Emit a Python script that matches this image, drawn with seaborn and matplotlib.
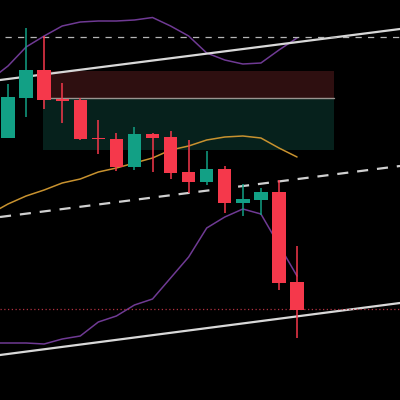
#!/usr/bin/env python3
import matplotlib
matplotlib.use("Agg")
import matplotlib.pyplot as plt
import numpy as np
import seaborn as sns

# candles, one entry per bar
opens = [262, 302, 330, 301, 300, 262, 261, 233, 266, 263, 228, 218, 231, 197, 200, 208, 118]
closes = [303, 330, 300, 299, 261, 261, 233, 266, 262, 227, 218, 231, 197, 201, 208, 117, 90]
highs = [316, 372, 364, 317, 302, 280, 267, 273, 267, 269, 260, 249, 234, 216, 212, 220, 154]
lows = [262, 283, 291, 277, 260, 246, 229, 230, 228, 221, 207, 215, 187, 184, 185, 110, 62]

# bollinger bands and moving average
bar_idx = [-1, 0, 1, 2, 3, 4, 5, 6, 7, 8, 9, 10, 11, 12, 13, 14, 15, 16]
upper_band = [80, 334, 353, 364, 374, 378, 379, 379, 380, 382.5, 374, 364, 347, 340, 336, 337, 350, 362]
upper_band[0] = 320
lower_band = [57, 57, 57, 56, 61, 64, 78, 84, 95, 101, 122, 143, 172, 183, 191, 186, 155, 124]
ma_line = [186, 196, 204, 210, 217, 221, 228, 232, 237, 242, 250, 254, 260, 263, 264, 262, 252, 243]

# trend lines, left and right end
edge_idx = [-0.443, 21.7]
top_trend = [320, 371]
mid_trend = [183, 234]
low_trend = [45, 97]
resist_level = [363.5, 363.5]
close_level = [91, 91]

# zones: price bottom/top
zone_idx = [1.94, 18.05]
red_zone = [302.5, 329.5]
green_zone = [250.5, 302.5]

UP = "#12a085"
DOWN = "#f5384b"

sns.set_theme(style="dark")
fig, ax = plt.subplots(figsize=(4, 4), dpi=100)
fig.patch.set_facecolor("black")
ax.set_facecolor("black")
ax.set_position([0, 0, 1, 1])

ax.fill_between(zone_idx, red_zone[0], red_zone[1], color="#2e0f10", lw=0, zorder=1)
ax.fill_between(zone_idx, green_zone[0], green_zone[1], color="#06211c", lw=0, zorder=1)
ax.plot(zone_idx, [red_zone[0], red_zone[0]], color="#9a9490", lw=1, zorder=1.5)

sns.lineplot(x=bar_idx, y=upper_band, color="#6f3a94", lw=1.1, ax=ax, zorder=2)
sns.lineplot(x=bar_idx, y=lower_band, color="#6f3a94", lw=1.1, ax=ax, zorder=2)
sns.lineplot(x=bar_idx, y=ma_line, color="#c8922f", lw=1.1, ax=ax, zorder=2)

sns.lineplot(x=edge_idx, y=top_trend, color="#d8d8d8", lw=1.6, ax=ax, zorder=3)
sns.lineplot(x=edge_idx, y=low_trend, color="#d8d8d8", lw=1.6, ax=ax, zorder=3)
sns.lineplot(x=edge_idx, y=mid_trend, color="#d0d0d0", lw=1.6, ax=ax, zorder=3,
             linestyle=(0, (5, 4)))
sns.lineplot(x=[0 - 0.16, 21.7], y=resist_level, color="#b5b5b5", lw=0.9, ax=ax, zorder=3,
             linestyle=(0, (5, 5)))
sns.lineplot(x=edge_idx, y=close_level, color="#b03040", lw=0.9, ax=ax, zorder=3,
             linestyle=(0, (1, 2)))

x = np.arange(len(opens))
colors = [UP if c > o else DOWN for o, c in zip(opens, closes)]
ax.vlines(x, lows, highs, colors=colors, lw=1.1, zorder=4)
bottoms = np.minimum(opens, closes)
heights = np.abs(np.array(closes) - np.array(opens))
ax.bar(x, heights, bottom=bottoms, width=0.74, color=colors, lw=0, zorder=5)

ax.set_xlim(-0.443, 21.7)
ax.set_ylim(0, 400)
ax.set_xticks([])
ax.set_yticks([])
ax.set_xlabel("")
ax.set_ylabel("")
for spine in ax.spines.values():
    spine.set_visible(False)
if ax.get_legend():
    ax.get_legend().remove()

fig.savefig("out.png", dpi=100, facecolor="black")
